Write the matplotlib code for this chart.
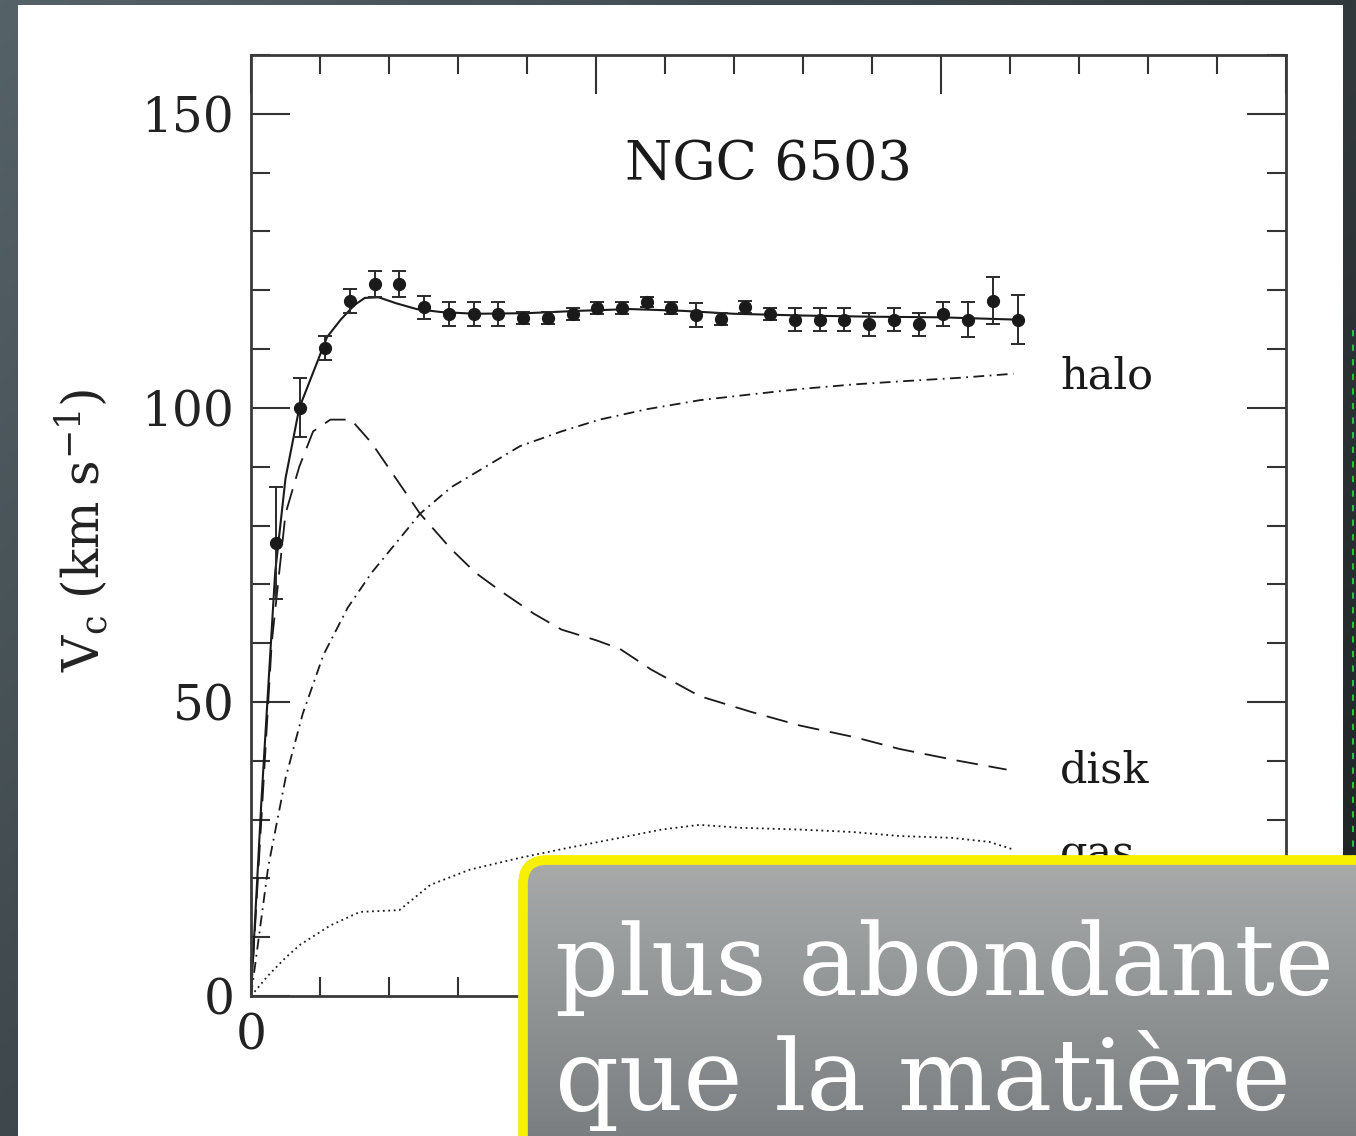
import numpy as np
import matplotlib
matplotlib.use("Agg")
import matplotlib.pyplot as plt
from matplotlib.patches import Rectangle, FancyBboxPatch
from matplotlib.ticker import MultipleLocator, FixedLocator, FixedFormatter

plt.rcParams['font.family'] = ['DejaVu Serif']
plt.rcParams['mathtext.fontset'] = 'dejavuserif'

# ---------------- data ----------------
r_obs = [0.72, 1.43, 2.15, 2.87, 3.58, 4.30, 5.02, 5.73, 6.45, 7.17, 7.88,
         8.60, 9.32, 10.03, 10.75, 11.47, 12.18, 12.90, 13.62, 14.33, 15.05,
         15.77, 16.48, 17.20, 17.92, 18.63, 19.35, 20.07, 20.78, 21.50, 22.22]
v_obs = [77.0, 100.0, 110.2, 118.2, 121.1, 121.1, 117.1, 116.0, 116.0, 116.0, 115.3,
         115.3, 116.0, 117.0, 117.0, 118.0, 117.0, 115.8, 115.1, 117.1, 116.0,
         115.0, 115.0, 115.0, 114.2, 115.0, 114.2, 116.0, 115.0, 118.2, 115.0]
v_err = [9.5, 5.0, 2.0, 2.0, 2.2, 2.2, 2.0, 2.0, 2.0, 2.0, 1.0,
         1.0, 1.0, 1.0, 1.0, 0.8, 1.0, 2.0, 1.0, 1.0, 1.0,
         2.0, 2.0, 2.0, 2.0, 2.0, 2.0, 2.0, 3.0, 4.0, 4.2]

r_fit = [0, 0.3, 0.7, 1.0, 1.4, 1.8, 2.2, 2.6, 3.0, 3.3, 3.7, 4.2, 4.8, 5.5,
         6.5, 8.0, 9.5, 11.0, 12.5, 14.0, 16.0, 18.0, 20.0, 22.2]
v_fit = [0, 33, 72, 88, 100, 106, 112, 115, 117.5, 118.7, 118.8, 117.8, 116.8, 116.3,
         116.0, 116.1, 116.5, 116.8, 116.5, 116.0, 115.7, 115.5, 115.4, 115.0]

r_disk = [0, 0.3, 0.6, 1.0, 1.4, 1.8, 2.3, 2.9, 3.5, 4.2, 4.9, 5.8, 6.5, 7.2, 8.2,
          9.0, 10.0, 10.7, 11.6, 13.0, 14.5, 15.9, 17.5, 18.8, 20.5, 21.9]
v_disk = [0, 30, 60, 82, 90, 96, 98, 98, 94, 88, 82, 76, 72, 69, 65,
          62.3, 60.5, 59, 55.5, 51, 48.3, 46, 44, 42, 40, 38.5]

r_halo = [0, 0.5, 1.0, 1.5, 2.1, 2.8, 3.5, 4.2, 4.9, 5.8, 6.8, 7.8, 9.0, 10.1,
          11.5, 13.0, 14.5, 15.9, 17.5, 18.8, 20.5, 22.1]
v_halo = [0, 22, 37, 48, 58, 66, 72, 77, 82, 86.5, 90, 93.5, 96, 98,
          99.8, 101.3, 102.3, 103.2, 104.0, 104.5, 105.1, 105.8]

r_gas = [0, 0.5, 1.0, 1.42, 2.3, 3.16, 4.3, 5.2, 6.35, 7.8, 9.2, 10.7, 11.9, 13.0,
         14.2, 15.9, 17.4, 18.8, 20.3, 21.4, 22.1]
v_gas = [0, 3.5, 6.5, 8.7, 12.0, 14.3, 14.6, 18.9, 21.5, 23.5, 25.2, 26.9, 28.3, 29.1,
         28.6, 28.3, 27.9, 27.2, 26.9, 26.2, 24.9]

title_text = "NGC 6503"
curve_labels = ["halo", "disk", "gas"]
caption_lines = ["plus abondante", "que la matière"]
x_major = [0, 10, 20, 30]
x_major_labels = ["0", "", "", ""]   # 10/20/30 are hidden under the caption box

W, H = 1356, 1136
fig = plt.figure(figsize=(W / 100, H / 100), dpi=100)

# ---------------- background frame ----------------
bg = fig.add_axes([0, 0, 1, 1], zorder=-10)
gx = np.linspace(0, 1, 256)
gy = np.linspace(0, 1, 256)
GX, GY = np.meshgrid(gx, gy)
t = np.clip(0.6 * GX + 0.4 * GY, 0, 1)
c0 = np.array([0x55, 0x62, 0x68]) / 255.0
c1 = np.array([0x1c, 0x1f, 0x20]) / 255.0
img = c0[None, None, :] * (1 - t[..., None]) + c1[None, None, :] * t[..., None]
bg.imshow(img, extent=[0, 1, 0, 1], aspect='auto', origin='upper')
bg.add_patch(Rectangle((18 / W, 0), (1343 - 18) / W, (H - 5) / H,
                       facecolor='white', edgecolor='none'))
bg.plot([1353 / W, 1353 / W], [(H - 330) / H, (H - 860) / H], color='#22c23a',
        lw=1.5, ls=(0, (3, 4)))
bg.set_xlim(0, 1)
bg.set_ylim(0, 1)
bg.axis('off')

# ---------------- main chart ----------------
ax = fig.add_axes([251 / W, (H - 996) / H, (1286 - 251) / W, (996 - 55) / H], zorder=1)
ax.set_facecolor('none')
ax.set_xlim(0, 30)
ax.set_ylim(0, 160)

ink = '#1a1a1a'
ax.plot(r_fit, v_fit, color=ink, lw=1.5)
ax.plot(r_disk, v_disk, color=ink, lw=1.3, dashes=(12, 6))
ax.plot(r_halo, v_halo, color=ink, lw=1.3, dashes=(6, 3, 1, 3))
ax.plot(r_gas, v_gas, color=ink, lw=1.3, dashes=(1, 2))
ax.errorbar(r_obs, v_obs, yerr=v_err, fmt='o', color=ink, ms=8.5,
            markeredgecolor=ink, ecolor='#2a2a2a', elinewidth=1.4,
            capsize=5, capthick=1.4)

ax.text(15, 141.2, title_text, ha='center', va='center', fontsize=39, color=ink)
ax.text(23.45, 105.4, curve_labels[0], ha='left', va='center', fontsize=31, color=ink)
ax.text(23.45, 38.3, curve_labels[1], ha='left', va='center', fontsize=31, color=ink)
ax.text(23.45, 24.0, curve_labels[2], ha='left', va='center', fontsize=31, color=ink)

ax.xaxis.set_major_locator(FixedLocator(x_major))
ax.xaxis.set_major_formatter(FixedFormatter(x_major_labels))
ax.xaxis.set_minor_locator(MultipleLocator(2))
ax.yaxis.set_major_locator(MultipleLocator(50))
ax.yaxis.set_minor_locator(MultipleLocator(10))
ax.tick_params(which='both', direction='in', top=True, right=True,
               color='#333333', width=1.5)
ax.tick_params(which='major', length=28, labelsize=35, pad=12, labelcolor='#222222')
ax.tick_params(which='minor', length=14)
for sp in ax.spines.values():
    sp.set_color('#3a3a3a')
    sp.set_linewidth(2.0)

ax.set_ylabel(r'V$_\mathrm{c}$ (km s$^{-1}$)', fontsize=36, color='#222222')
ax.yaxis.set_label_coords(-0.136, 0.495)

# ---------------- overlay caption box ----------------
ox0, ox1, oy_top, oy_bot = 518, 1400, 855, 1185
ov = fig.add_axes([ox0 / W, (H - oy_bot) / H, (ox1 - ox0) / W, (oy_bot - oy_top) / H],
                  zorder=5)
ov.set_xlim(0, ox1 - ox0)
ov.set_ylim(0, oy_bot - oy_top)
ov.axis('off')
box = FancyBboxPatch((5, 5), (ox1 - ox0) - 10, (oy_bot - oy_top) - 10,
                     boxstyle='round,pad=0,rounding_size=24',
                     facecolor='none', edgecolor='#f7f000', lw=7, zorder=3)
ov.add_patch(box)
gt = np.linspace(0, 1, 256)[:, None]
top_c = np.array([0xa8, 0xab, 0xaa]) / 255.0
bot_c = np.array([0x74, 0x77, 0x7a]) / 255.0
gimg = (top_c[None, :] * (1 - gt) + bot_c[None, :] * gt)[:, None, :].repeat(4, axis=1)
im = ov.imshow(gimg, extent=[0, ox1 - ox0, 0, oy_bot - oy_top], aspect='auto',
               origin='upper', zorder=1)
im.set_clip_path(box)

ov.text(555 - ox0, oy_bot - 995, caption_lines[0], ha='left',
        va='baseline', fontsize=72, color='white', zorder=4)
ov.text(555 - ox0, oy_bot - 1110, caption_lines[1], ha='left', va='baseline',
        fontsize=72, color='white', zorder=4)

fig.savefig('out.png', dpi=100)
